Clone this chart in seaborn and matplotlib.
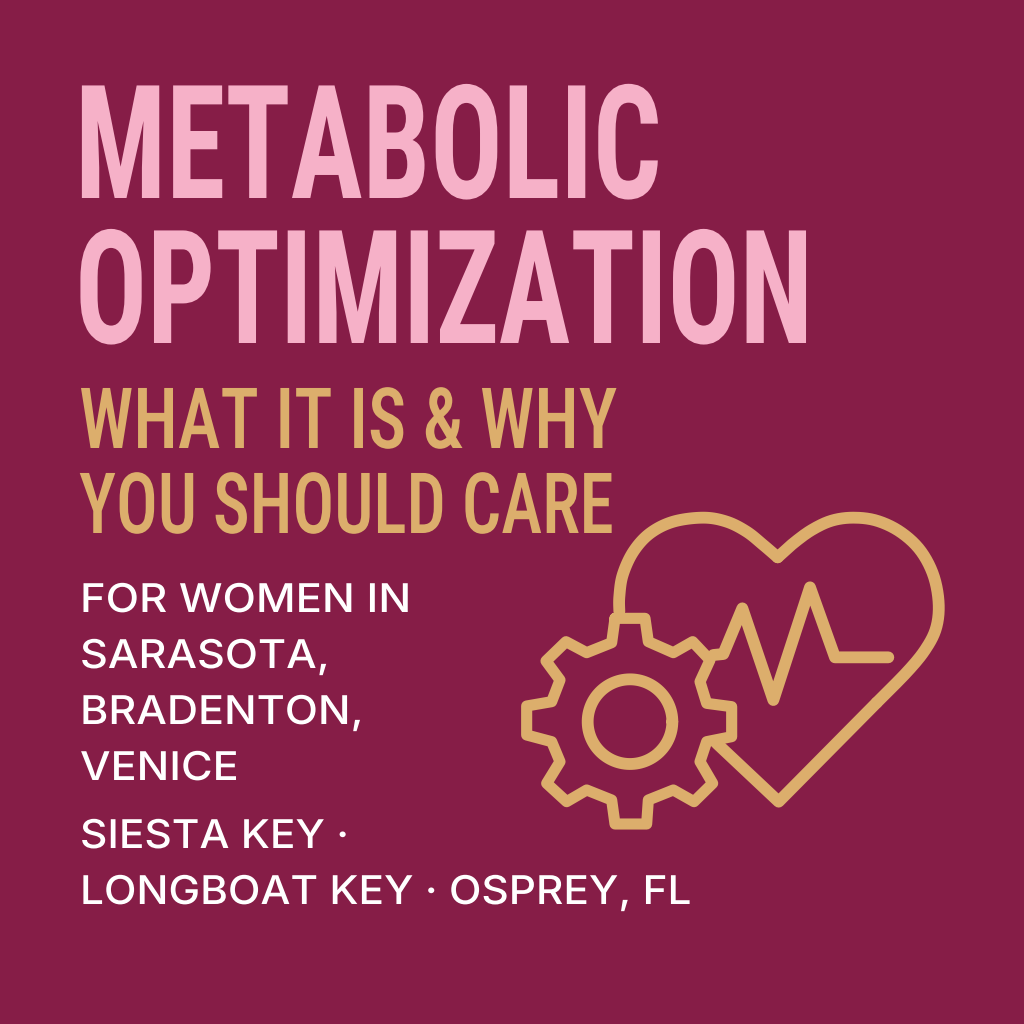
import numpy as np
import pandas as pd
import seaborn as sns
import matplotlib.pyplot as plt
from matplotlib.colors import to_rgb
from matplotlib.font_manager import FontProperties
from matplotlib.text import Text
from matplotlib.textpath import TextPath
from matplotlib.transforms import Affine2D, Bbox

BG = '#861d47'
PINK = '#f6b1c8'
GOLD = '#dcae6c'
WHITE = '#ffffff'

title_lines = ['METABOLIC', 'OPTIMIZATION']
title_y = [198, 343]
title_squeeze = [0.76, 0.755]
sub_lines = ['WHAT IT IS & WHY', 'YOU SHOULD CARE']
sub_y = [448, 533]
sub_squeeze = [0.853, 0.82]
body_lines = ['FOR WOMEN IN', 'SARASOTA,', 'BRADENTON,', 'VENICE', 'SIESTA KEY \u00b7', 'LONGBOAT KEY \u00b7 OSPREY, FL']
body_y = [612, 668, 724, 780, 848, 904]
body_squeeze = [1.10, 1.09, 1.09, 1.09, 1.07, 1.07]

lobe_left = [(328, 335), (328, 290), (338, 225), (370, 155), (420, 100), (490, 65), (580, 53), (650, 65), (710, 95), (760, 135), (803, 172)]
lobe_right = [(803, 172), (850, 130), (905, 90), (965, 62), (1030, 53), (1100, 62), (1170, 95), (1230, 150), (1270, 225), (1286, 310), (1278, 385), (1245, 450), (1190, 517), (1100, 608)]
heart_tail = [(1100, 608), (806, 905), (620, 730)]
pulse = [(610, 465), (640, 462), (697, 325), (790, 600), (900, 262), (975, 472), (1135, 472)]
gear = [(315, 355), (405, 355), (415, 425), (490, 458), (548, 425), (600, 480), (570, 545), (590, 610), (665, 620), (665, 710),
        (590, 725), (570, 785), (608, 850), (552, 905), (490, 870), (415, 900), (410, 972), (315, 972), (305, 900), (230, 870),
        (170, 905), (110, 850), (150, 785), (125, 725), (50, 705), (50, 618), (125, 605), (150, 540), (108, 483), (168, 425),
        (230, 458), (305, 428), (315, 355)]
hub = (360, 665)
hub_r = 127


class SqueezedText(Text):
    # no narrow enough font is installed, so the glyphs get stretched in x when drawn
    def __init__(self, x, y, text, xscale=1.0, **kw):
        super().__init__(x, y, text, **kw)
        self.xscale = xscale

    def _glyphs(self):
        fp = self.get_fontproperties()
        s = self.get_figure().dpi / 72
        x, y = self.get_transform().transform(self.get_position())
        path = TextPath((0, 0), self.get_text(), size=fp.get_size_in_points(), prop=fp)
        return path, Affine2D().scale(s * self.xscale, s).translate(x, y)

    def draw(self, renderer):
        path, tr = self._glyphs()
        gc = renderer.new_gc()
        gc.set_linewidth(0)
        renderer.draw_path(gc, path, tr, rgbFace=to_rgb(self.get_color()))
        gc.restore()

    def get_window_extent(self, renderer=None, dpi=None):
        path, tr = self._glyphs()
        return Bbox(path.get_extents(tr).get_points())


def put_text(ax, x, y, s, xscale, **kw):
    t = SqueezedText(x, y, s, xscale=xscale, transform=ax.transData, **kw)
    ax.add_artist(t)
    return t


def smooth(pts, n=12):
    # catmull-rom through the read points so the lobes dont look polygonal
    p = np.array(pts, float)
    p = np.vstack([p[0], p, p[-1]])
    out = []
    for i in range(1, len(p) - 2):
        for t in np.linspace(0, 1, n, endpoint=False):
            out.append(0.5 * (2 * p[i] + (p[i + 1] - p[i - 1]) * t
                              + (2 * p[i - 1] - 5 * p[i] + 4 * p[i + 1] - p[i + 2]) * t ** 2
                              + (3 * p[i] - p[i - 1] - 3 * p[i + 1] + p[i + 2]) * t ** 3))
    out.append(p[-1])
    return np.array(out)


def draw(pts, ax, lw):
    pts = np.asarray(pts, float)
    df = pd.DataFrame({'x': 510 + pts[:, 0] / 3, 'y': 500 + pts[:, 1] / 3})
    sns.lineplot(data=df, x='x', y='y', sort=False, estimator=None, color=GOLD, lw=lw, ax=ax,
                 solid_joinstyle='round', solid_capstyle='round')


sns.set_theme(style='white')
fig, ax = plt.subplots(figsize=(10.24, 10.24), dpi=100)
fig.subplots_adjust(0, 0, 1, 1)
fig.patch.set_facecolor(BG)
ax.set_facecolor(BG)

draw(smooth(lobe_left), ax, 8.5)
draw(smooth(lobe_right), ax, 8.5)
draw(heart_tail, ax, 8.5)
draw(pulse, ax, 8.5)
draw(gear, ax, 8)
a = np.linspace(0, 2 * np.pi, 120)
draw(np.c_[hub[0] + hub_r * np.cos(a), hub[1] + hub_r * np.sin(a)], ax, 8.5)

ax.set_xlim(0, 1024)
ax.set_ylim(1024, 0)
ax.axis('off')

for line, y, sq in zip(title_lines, title_y, title_squeeze):
    put_text(ax, 75, y, line, sq, color=PINK, fontproperties=FontProperties(family='Roboto Condensed', weight=700, size=114))
for line, y, sq in zip(sub_lines, sub_y, sub_squeeze):
    put_text(ax, 79, y, line, sq, color=GOLD, fontproperties=FontProperties(family='Roboto Condensed', weight=500, size=60.8))
for line, y, sq in zip(body_lines, body_y, body_squeeze):
    put_text(ax, 80, y, line, sq, color=WHITE, fontproperties=FontProperties(family='Inter', weight=500, size=28.5))

fig.savefig('out.png', dpi=100, facecolor=BG)
